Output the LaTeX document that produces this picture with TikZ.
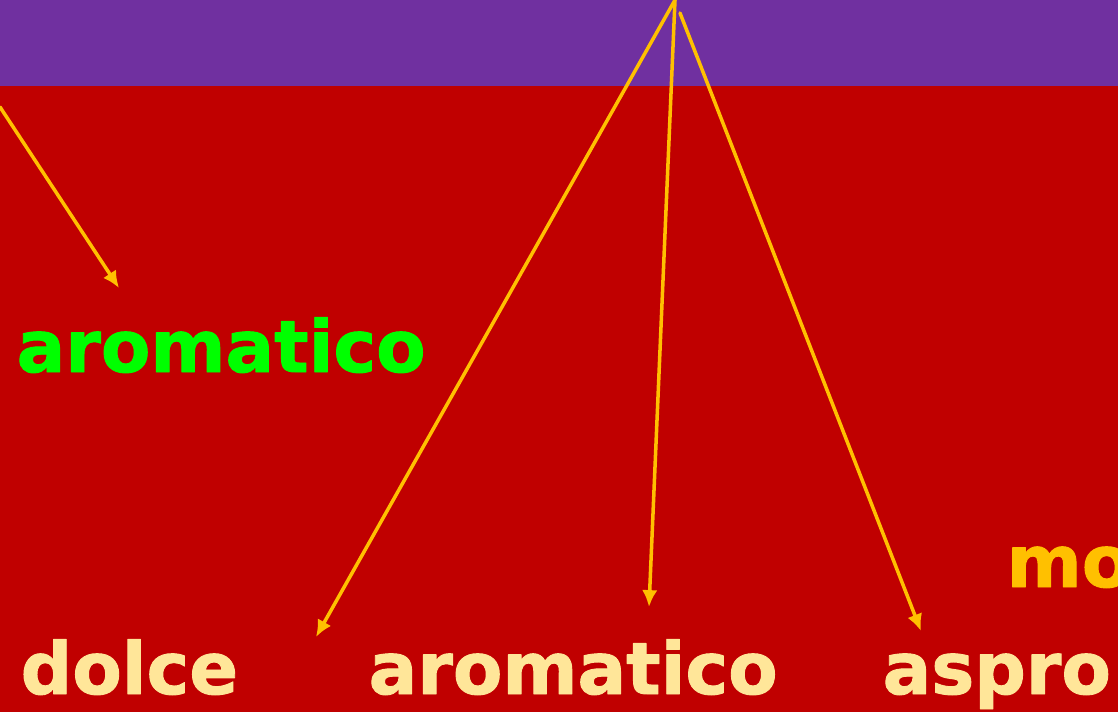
\documentclass[tikz,border=0pt]{standalone}
\usepackage{fontspec}
\setmainfont{DejaVu Sans}[BoldFeatures={FakeBold=1.3}]
\usetikzlibrary{arrows.meta}
\definecolor{bandpurple}{HTML}{7030A0}
\definecolor{slidered}{HTML}{C00000}
\definecolor{arrowgold}{HTML}{FFC000}
\definecolor{palegold}{HTML}{FFE699}
\definecolor{brightgreen}{HTML}{00FF00}
\begin{document}
\begin{tikzpicture}[x=0.01cm,y=-0.01cm,line cap=round,line join=round,
  word/.style={anchor=base west,inner sep=0pt,font=\fontsize{20.5}{24}\selectfont\bfseries},
  pointer/.style={arrowgold,line width=1pt,-{Latex[length=4.8pt,width=4.4pt]}}]
  \useasboundingbox (0,0) rectangle (1118,712);
  \clip (0,0) rectangle (1118,712);
  \fill[bandpurple] (0,0) rectangle (1118,86);
  \fill[slidered] (0,86) rectangle (1118,712);
  % words
  \node[word,text=brightgreen] (aromaticoup) at (16,372) {aromatico};
  \node[word,text=palegold] (dolce) at (20,694) {dolce};
  \node[word,text=palegold] (aromaticolow) at (368,694) {aromatico};
  \node[word,text=palegold] (aspro) at (882,694) {aspro};
  \node[word,text=arrowgold] (mo) at (1006,587) {mo};
  % arrows
  \coordinate (leftin) at (0,107);
  \coordinate (apex) at (675,0);
  \coordinate (apexr) at (680,13);
  \coordinate (tipgreen) at (119,288);
  \coordinate (tipdolce) at (316,637);
  \coordinate (tipmid) at (649,607);
  \coordinate (tipaspro) at (921,631);
  \draw[pointer] (leftin) -- (tipgreen);
  \draw[pointer] (apex) -- (tipdolce);
  \draw[pointer] (apex) -- (tipmid);
  \draw[pointer] (apexr) -- (tipaspro);
\end{tikzpicture}
\end{document}
